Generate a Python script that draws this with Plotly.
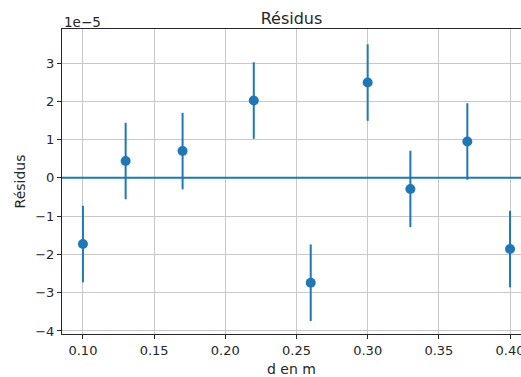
import plotly.graph_objects as go

# Data (residuals expressed in units of 1e-5)
d_m = [0.10, 0.13, 0.17, 0.22, 0.26, 0.30, 0.33, 0.37, 0.40]
residus_e5 = [-1.73, 0.44, 0.70, 2.02, -2.74, 2.49, -0.29, 0.95, -1.86]
err_e5 = [1.0, 1.0, 1.0, 1.0, 1.0, 1.0, 1.0, 1.0, 1.0]
y_ticks = [-4, -3, -2, -1, 0, 1, 2, 3]
x_ticks = [0.10, 0.15, 0.20, 0.25, 0.30, 0.35, 0.40]
x_range = [0.0853, 0.4077]
y_range = [-4.08, 3.89]

blue = "#1f77b4"
font_family = "DejaVu Sans"

fig = go.Figure()
fig.add_trace(go.Scatter(
    x=d_m, y=residus_e5, mode="markers",
    marker=dict(color=blue, size=10),
    error_y=dict(type="data", array=err_e5, color=blue, thickness=2, width=0),
    showlegend=False,
))
fig.add_shape(type="line", xref="paper", x0=0, x1=1, yref="y", y0=0, y1=0,
              line=dict(color=blue, width=2))

fig.update_layout(
    width=521, height=377,
    margin=dict(l=62, r=0, t=29, b=43, autoexpand=False),
    paper_bgcolor="white", plot_bgcolor="white",
    font=dict(family=font_family, size=13, color="#262626"),
    title=dict(text="Résidus", x=0.5, xref="paper", xanchor="center",
               y=1, yref="paper", yanchor="bottom", pad=dict(b=5),
               font=dict(size=16, color="#262626")),
    annotations=[dict(text="1e−5", xref="paper", yref="paper", x=0, y=1,
                      xanchor="left", yanchor="bottom", showarrow=False,
                      font=dict(size=13.5, color="#262626"), yshift=-3)],
)
fig.update_xaxes(
    range=x_range, tickvals=x_ticks, tickformat=".2f",
    showgrid=True, gridcolor="#c8c8c8", gridwidth=1,
    showline=True, linecolor="#262626", linewidth=1, mirror=True,
    ticks="outside", ticklen=4, tickcolor="#262626",
    ticklabeloverflow="allow", tickfont=dict(size=13),
    zeroline=False, automargin=False,
    title=dict(text="d en m", standoff=8, font=dict(size=14)),
)
fig.update_yaxes(
    range=y_range, tickvals=y_ticks, tickformat="d",
    showgrid=True, gridcolor="#c8c8c8", gridwidth=1,
    showline=True, linecolor="#262626", linewidth=1, mirror=False,
    ticks="outside", ticklen=4, tickcolor="#262626",
    tickfont=dict(size=13),
    zeroline=False, automargin=False,
    title=dict(text="Résidus", standoff=6, font=dict(size=14)),
)

fig.write_html(
    "out.html",
    config={"displayModeBar": False},
    post_script="document.body.style.margin='0';document.body.style.overflow='hidden';",
)
